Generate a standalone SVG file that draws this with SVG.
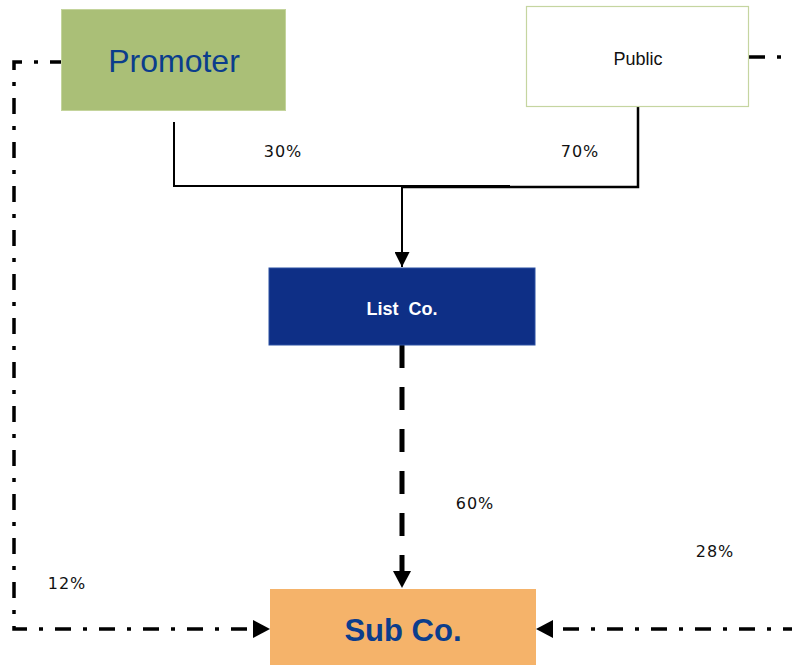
<svg xmlns="http://www.w3.org/2000/svg" width="792" height="665" viewBox="0 0 792 665">
  <style>
    .pct { font-family: "DejaVu Sans", sans-serif; font-size: 16px; letter-spacing: 1px; fill: #111; text-anchor: middle; }
    .solid { fill: none; stroke: #000; stroke-width: 2; }
    .dashed { fill: none; stroke: #000; stroke-width: 5; stroke-dasharray: 23 19; }
    .dashdot { fill: none; stroke: #000; stroke-width: 3.5; stroke-dasharray: 16 12 4 12; }
    .lbl { font-family: "Liberation Sans", Arial, sans-serif; text-anchor: middle; }
  </style>
  <defs>
    <marker id="arrowSm" viewBox="0 0 15 15" refX="15" refY="7.5" markerWidth="15" markerHeight="15" markerUnits="userSpaceOnUse" orient="auto">
      <path d="M0,0 L15,7.5 L0,15 Z" fill="#000"/>
    </marker>
    <marker id="arrowLg" viewBox="0 0 17 18" refX="17" refY="9" markerWidth="17" markerHeight="18" markerUnits="userSpaceOnUse" orient="auto">
      <path d="M0,0 L17,9 L0,18 Z" fill="#000"/>
    </marker>
  </defs>

  <!-- connectors -->
  <g id="connectors">
    <path class="solid" d="M174,122 V186 H510"/>
    <path class="solid" d="M638,107 V187 H402" style="stroke-width:2.5"/>
    <path class="solid" d="M402,186 V267" marker-end="url(#arrowSm)"/>
    <path class="dashed" d="M402,345 V588" marker-end="url(#arrowLg)"/>
    <path class="dashdot" d="M66,62 H14 V629 H270" marker-end="url(#arrowLg)"/>
    <path class="dashdot" d="M749,57 H800"/>
    <path class="dashdot" d="M552,629 H800" style="stroke-dashoffset:33"/>
    <path d="M536,629 L553,620 L553,638 Z" fill="#000"/>
  </g>

  <!-- nodes -->
  <g id="promoter">
    <rect x="61.5" y="9.5" width="224" height="101" fill="#aabf77" stroke="#c4d49c" stroke-width="1"/>
    <text class="lbl" x="174" y="72" font-size="32" fill="#0b3d8c">Promoter</text>
  </g>
  <g id="public">
    <rect x="526.5" y="6.5" width="222" height="100" fill="#fff" stroke="#c5d5a0" stroke-width="1.2"/>
    <text class="lbl" x="638" y="65" font-size="18" fill="#111">Public</text>
  </g>
  <g id="listco">
    <rect x="269" y="268" width="266" height="77" fill="#0e2f86" stroke="#2b50a2" stroke-width="1"/>
    <text class="lbl" x="402" y="315" font-size="18" font-weight="bold" fill="#fff" xml:space="preserve">List  Co.</text>
  </g>
  <g id="subco">
    <rect x="270" y="589" width="266" height="76" fill="#f5b36a"/>
    <text class="lbl" x="403" y="641" font-size="31" font-weight="bold" fill="#0b3d8c">Sub Co.</text>
  </g>

  <!-- ownership percentages -->
  <g id="labels">
    <text class="pct" x="283" y="157">30%</text>
    <text class="pct" x="580" y="157">70%</text>
    <text class="pct" x="475" y="509">60%</text>
    <text class="pct" x="715" y="557">28%</text>
    <text class="pct" x="67" y="589">12%</text>
  </g>
</svg>
